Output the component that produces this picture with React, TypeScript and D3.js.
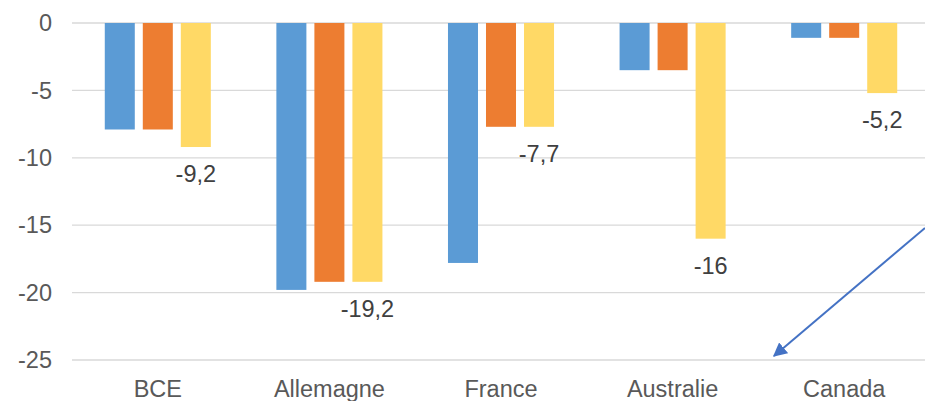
import * as d3 from 'd3';
import React, { useEffect, useRef } from 'react';

const categories = ['BCE', 'Allemagne', 'France', 'Australie', 'Canada'];
const seriesA = [-7.9, -19.8, -17.8, -3.5, -1.1];
const seriesB = [-7.9, -19.2, -7.7, -3.5, -1.1];
const seriesC = [-9.2, -19.2, -7.7, -16, -5.2];
const yTicks = [0, -5, -10, -15, -20, -25];

const colors = ['#5B9BD5', '#ED7D31', '#FFD966'];

const App = () => {
  const node = useRef<SVGSVGElement>(null);

  useEffect(() => {
    const width = 925;
    const height = 401;
    const left = 72;
    const right = 930;
    const top = 23;
    const bottom = 360;
    const font = 'Liberation Sans, Arial, sans-serif';

    const svg = d3.select(node.current);
    svg.selectAll('*').remove();
    svg.attr('width', width).attr('height', height);

    const x0 = d3
      .scaleBand()
      .domain(categories)
      .range([left, right])
      .paddingInner(0.382)
      .paddingOuter(0.191);
    const x1 = d3
      .scaleBand()
      .domain(['a', 'b', 'c'])
      .range([0, x0.bandwidth()])
      .paddingInner(0.2105)
      .paddingOuter(0);
    const y = d3.scaleLinear().domain([0, -25]).range([top, bottom]);

    // grid
    svg
      .append('g')
      .selectAll('line')
      .data(yTicks)
      .enter()
      .append('line')
      .attr('x1', left)
      .attr('x2', width)
      .attr('y1', (d) => y(d))
      .attr('y2', (d) => y(d))
      .attr('stroke', '#D9D9D9')
      .attr('stroke-width', 1.3);

    // y labels
    svg
      .append('g')
      .selectAll('text')
      .data(yTicks)
      .enter()
      .append('text')
      .attr('x', 52)
      .attr('y', (d) => y(d))
      .attr('dy', '0.35em')
      .attr('text-anchor', 'end')
      .attr('font-family', font)
      .attr('font-size', 23.5)
      .attr('fill', '#595959')
      .text((d) => String(d));

    // x labels
    svg
      .append('g')
      .selectAll('text')
      .data(categories)
      .enter()
      .append('text')
      .attr('x', (d) => (x0(d) as number) + x0.bandwidth() / 2)
      .attr('y', 397)
      .attr('text-anchor', 'middle')
      .attr('font-family', font)
      .attr('font-size', 23.5)
      .attr('fill', '#595959')
      .text((d) => d);

    const series = [
      { key: 'a', values: seriesA },
      { key: 'b', values: seriesB },
      { key: 'c', values: seriesC },
    ];

    series.forEach((s, si) => {
      svg
        .append('g')
        .selectAll('rect')
        .data(s.values)
        .enter()
        .append('rect')
        .attr('x', (d, i) => (x0(categories[i]) as number) + (x1(s.key) as number))
        .attr('y', y(0))
        .attr('width', x1.bandwidth())
        .attr('height', (d) => y(d) - y(0))
        .attr('fill', colors[si]);
    });

    // labels on third series
    svg
      .append('g')
      .selectAll('text')
      .data(seriesC)
      .enter()
      .append('text')
      .attr('x', (d, i) => (x0(categories[i]) as number) + (x1('c') as number) + x1.bandwidth() / 2)
      .attr('y', (d) => y(d) + 35)
      .attr('text-anchor', 'middle')
      .attr('font-family', font)
      .attr('font-size', 23.5)
      .attr('fill', '#404040')
      .text((d) => String(d).replace('.', ','));

    // arrow annotation
    const defs = svg.append('defs');
    defs
      .append('marker')
      .attr('id', 'arrowhead')
      .attr('viewBox', '0 0 10 10')
      .attr('refX', 9)
      .attr('refY', 5)
      .attr('markerWidth', 7)
      .attr('markerHeight', 7)
      .attr('orient', 'auto')
      .append('path')
      .attr('d', 'M0,0 L10,5 L0,10 z')
      .attr('fill', '#4472C4');

    svg
      .append('line')
      .attr('x1', width)
      .attr('y1', y(-15.2))
      .attr('x2', 774)
      .attr('y2', y(-24.7))
      .attr('stroke', '#4472C4')
      .attr('stroke-width', 2)
      .attr('marker-end', 'url(#arrowhead)');
  }, []);

  return (
    <svg
      ref={node}
      style={{ position: 'absolute', left: 0, top: 0, background: '#fff' }}
    />
  );
};

export default App;
